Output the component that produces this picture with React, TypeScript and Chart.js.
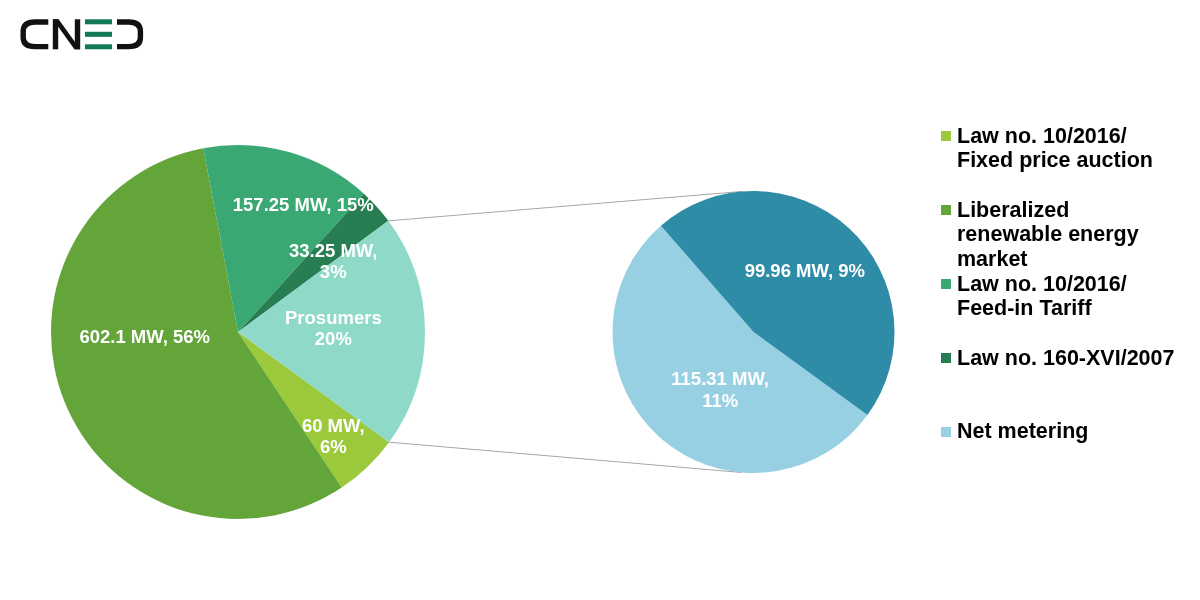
import React, { useEffect, useRef } from "react";
import { Chart, registerables } from "chart.js";

Chart.register(...registerables);

// ---- data ----
const primaryLabels = [
  "Law no. 10/2016/ Fixed price auction",
  "Liberalized renewable energy market",
  "Law no. 10/2016/ Feed-in Tariff",
  "Law no. 160-XVI/2007",
  "Prosumers",
];
const primaryValues = [60, 602.1, 157.25, 33.25];
const secondaryLabels = ["Net metering", ""];
const secondaryValues = [115.31, 99.96];
const primaryColors = ["#9BC93B", "#63A538", "#3AA873", "#277E52", "#8FD9C8"];
const secondaryColors = ["#96D0E2", "#2E8CA6"];
const legendLabels = [
  ["Law no. 10/2016/", "Fixed price auction"],
  ["Liberalized", "renewable energy", "market"],
  ["Law no. 10/2016/", "Feed-in Tariff"],
  ["Law no. 160-XVI/2007"],
  ["Net metering"],
];

// ---- derived ----
const prosumersValue = Math.round(secondaryValues.reduce((a, b) => a + b, 0) * 100) / 100;
const primaryData = [...primaryValues, prosumersValue];
const grandTotal = primaryData.reduce((a, b) => a + b, 0);
const pct = (v: number) => Math.round((v / grandTotal) * 100);

type Mode = "one" | "two" | "name";
const primaryModes: Mode[] = ["two", "one", "one", "two", "name"];
const secondaryModes: Mode[] = ["two", "one"];

const labelLines = (v: number, name: string, mode: Mode) => {
  if (mode === "name") return [name, `${pct(v)}%`];
  if (mode === "two") return [`${v} MW,`, `${pct(v)}%`];
  return [`${v} MW, ${pct(v)}%`];
};

// label placement (radius fraction, angle offset in degrees)
const primaryLabelPos = [
  [0.76, 1.7],
  [0.5, 18.3],
  [0.76, 11.5],
  [0.63, 6],
  [0.51, -1.3],
];
const secondaryLabelPos = [
  [0.48, -13],
  [0.56, -2],
];

const FONT = "'Liberation Sans', Arial, Helvetica, sans-serif";

const makeLabelPlugin = (lines: string[][], pos: number[][]) => ({
  id: "sliceLabels",
  afterDatasetsDraw(chart: any) {
    const meta = chart.getDatasetMeta(0);
    const ctx = chart.ctx;
    ctx.save();
    ctx.font = `bold 18.5px ${FONT}`;
    ctx.fillStyle = "#ffffff";
    ctx.textAlign = "center";
    ctx.textBaseline = "middle";
    meta.data.forEach((arc: any, i: number) => {
      const p = arc.getProps(["x", "y", "startAngle", "endAngle", "outerRadius"], true);
      const mid = (p.startAngle + p.endAngle) / 2 + (pos[i][1] * Math.PI) / 180;
      const r = p.outerRadius * pos[i][0];
      const cx = p.x + Math.cos(mid) * r;
      const cy = p.y + Math.sin(mid) * r;
      const ls = lines[i];
      const lh = 21.5;
      ls.forEach((t, k) => ctx.fillText(t, cx, cy + (k - (ls.length - 1) / 2) * lh));
    });
    ctx.restore();
  },
});

const makeConnectorPlugin = (leftRef: React.MutableRefObject<Chart | null>) => ({
  id: "connectors",
  beforeDatasetsDraw(chart: any) {
    const left = leftRef.current;
    if (!left) return;
    const lm = left.getDatasetMeta(0);
    const pros: any = lm.data[lm.data.length - 1];
    const lp = pros.getProps(["x", "y", "startAngle", "endAngle", "outerRadius"], true);
    const ra: any = chart.getDatasetMeta(0).data[0];
    const rp = ra.getProps(["x", "y", "outerRadius"], true);
    const ctx = chart.ctx;
    ctx.save();
    ctx.strokeStyle = "#A6A6A6";
    ctx.lineWidth = 1;
    [
      [lp.startAngle, 1],
      [lp.endAngle, -1],
    ].forEach(([a, sgn]) => {
      const px = lp.x + Math.cos(a) * lp.outerRadius;
      const py = lp.y + Math.sin(a) * lp.outerRadius;
      const dx = px - rp.x;
      const dy = py - rp.y;
      const d = Math.sqrt(dx * dx + dy * dy);
      const base = Math.atan2(dy, dx);
      const t = Math.acos(rp.outerRadius / d);
      const ta = base + sgn * t;
      const tx = rp.x + Math.cos(ta) * rp.outerRadius;
      const ty = rp.y + Math.sin(ta) * rp.outerRadius;
      ctx.beginPath();
      ctx.moveTo(px, py);
      ctx.lineTo(tx, ty);
      ctx.stroke();
    });
    ctx.restore();
  },
});

const pieOptions = (padding: any) => ({
  responsive: false,
  animation: false as const,
  rotation: 126.1,
  layout: { padding },
  plugins: { legend: { display: false }, tooltip: { enabled: false } },
  events: [],
});

const Logo = () => (
  <svg
    width={130}
    height={40}
    viewBox="0 0 130 40"
    style={{ position: "absolute", left: 18, top: 15 }}
    aria-label="CNED"
  >
    <title>CNED</title>
    <g transform="translate(-18,-15)">
      <path
        d="M48.3,22 H35 Q23.2,22 23.2,31.5 V37.5 Q23.2,46.6 35,46.6 H48.3"
        fill="none"
        stroke="#111"
        strokeWidth={5.4}
      />
      <rect x={52.8} y={19.3} width={5.4} height={30} fill="#111" />
      <rect x={74.8} y={19.3} width={5.4} height={30} fill="#111" />
      <polygon points="52.8,19.3 58.6,19.3 80.2,49.3 74.4,49.3" fill="#111" />
      <rect x={85} y={19.3} width={27} height={5} fill="#127A54" />
      <rect x={85} y={31.8} width={27} height={5} fill="#127A54" />
      <rect x={85} y={44.3} width={27} height={5} fill="#127A54" />
      <path
        d="M117,22 H128.8 Q140.4,22 140.4,31.5 V37.5 Q140.4,46.6 128.8,46.6 H117"
        fill="none"
        stroke="#111"
        strokeWidth={5.4}
      />
    </g>
  </svg>
);

export default function App() {
  const leftCanvas = useRef<HTMLCanvasElement>(null);
  const rightCanvas = useRef<HTMLCanvasElement>(null);
  const leftChart = useRef<Chart | null>(null);

  useEffect(() => {
    const left = new Chart(leftCanvas.current!, {
      type: "pie",
      data: {
        labels: primaryLabels,
        datasets: [
          {
            data: primaryData,
            backgroundColor: primaryColors,
            borderWidth: 0,
            hoverBorderWidth: 0,
            offset: 0,
            hoverOffset: 0,
          } as any,
        ],
      },
      options: pieOptions({ left: 51, top: 145, right: 775, bottom: 81 }) as any,
      plugins: [
        makeLabelPlugin(
          primaryData.map((v, i) => labelLines(v, primaryLabels[i], primaryModes[i])),
          primaryLabelPos
        ),
      ],
    });
    leftChart.current = left;
    const right = new Chart(rightCanvas.current!, {
      type: "pie",
      data: {
        labels: secondaryLabels,
        datasets: [
          {
            data: secondaryValues,
            backgroundColor: secondaryColors,
            borderWidth: 0,
            hoverBorderWidth: 0,
            offset: 0,
            hoverOffset: 0,
          } as any,
        ],
      },
      options: pieOptions({ left: 612.5, top: 191, right: 305.5, bottom: 127 }) as any,
      plugins: [
        makeConnectorPlugin(leftChart),
        makeLabelPlugin(
          secondaryValues.map((v, i) => labelLines(v, secondaryLabels[i], secondaryModes[i])),
          secondaryLabelPos
        ),
      ],
    });
    return () => {
      right.destroy();
      left.destroy();
      leftChart.current = null;
    };
  }, []);

  const legendColors = [...primaryColors.slice(0, 4), secondaryColors[0]];

  return (
    <div
      style={{
        position: "absolute",
        left: 0,
        top: 0,
        width: 1200,
        height: 600,
        background: "#ffffff",
        overflow: "hidden",
      }}
    >
      <Logo />
      <canvas
        ref={leftCanvas}
        width={1200}
        height={600}
        style={{ position: "absolute", left: 0, top: 0, width: 1200, height: 600 }}
      />
      <canvas
        ref={rightCanvas}
        width={1200}
        height={600}
        style={{ position: "absolute", left: 0, top: 0, width: 1200, height: 600 }}
      />
      {legendLabels.map((lines, i) => (
        <div
          key={i}
          style={{
            position: "absolute",
            left: 941,
            top: 123.8 + i * 73.9,
            fontFamily: FONT,
            fontWeight: "bold",
            fontSize: 21.5,
            lineHeight: "24.4px",
            color: "#000",
            whiteSpace: "nowrap",
          }}
        >
          <span
            style={{
              position: "absolute",
              left: 0,
              top: 7.5,
              width: 10,
              height: 10,
              background: legendColors[i],
            }}
          />
          <div style={{ marginLeft: 16 }}>
            {lines.map((l, k) => (
              <div key={k}>{l}</div>
            ))}
          </div>
        </div>
      ))}
    </div>
  );
}
